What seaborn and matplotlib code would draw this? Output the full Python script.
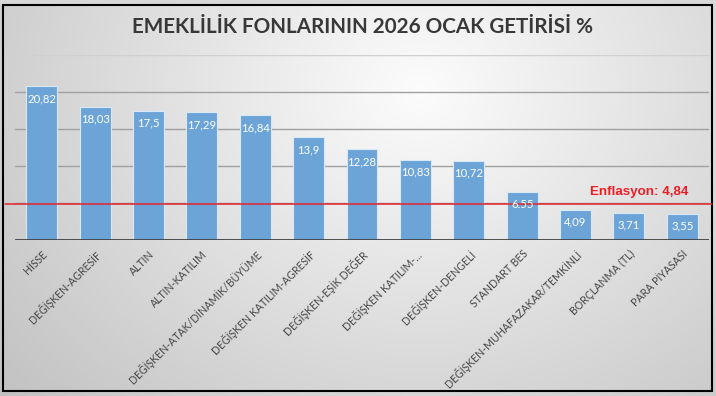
import numpy as np
import matplotlib
matplotlib.use("Agg")
import matplotlib.pyplot as plt
import seaborn as sns
from matplotlib.patches import Rectangle

categories = ["HİSSE", "DEĞİŞKEN-AGRESİF", "ALTIN", "ALTIN-KATILIM",
              "DEĞİŞKEN-ATAK/DİNAMİK/BÜYÜME", "DEĞİŞKEN KATILIM-AGRESİF",
              "DEĞİŞKEN-EŞİK DEĞER", "DEĞİŞKEN KATILIM-...", "DEĞİŞKEN-DENGELİ",
              "STANDART BES", "DEĞİŞKEN-MUHAFAZAKAR/TEMKİNLİ", "BORÇLANMA (TL)",
              "PARA PİYASASI"]
values = [20.82, 18.03, 17.5, 17.29, 16.84, 13.9, 12.28, 10.83, 10.72, 6.55, 4.09, 3.71, 3.55]
value_labels = ["20,82", "18,03", "17,5", "17,29", "16,84", "13,9", "12,28", "10,83",
                "10,72", "6.55", "4,09", "3,71", "3,55"]
inflation = 4.84
inflation_label = "Enflasyon: 4,84"
title = "EMEKLİLİK FONLARININ 2026 OCAK GETİRİSİ %"
gridlines = [5, 10, 15, 20, 25]

sns.set_theme(style="white")
plt.rcParams['font.family'] = ['Lato', 'DejaVu Sans']

W, H = 716, 396
fig = plt.figure(figsize=(W / 100, H / 100), dpi=100)
fig.patch.set_facecolor('#cbcbcb')

# background gradient
bg = fig.add_axes([0, 0, 1, 1], zorder=0)
yy, xx = np.mgrid[0:H, 0:W]
d = np.sqrt(((xx - 420) / 1.0) ** 2 + ((yy - 90) / 0.85) ** 2)
v = 252 - 55 * np.clip(d / 520, 0, 1.2)
v = np.clip(v, 190, 252) / 255.0
img = np.dstack([v, v, v])
img[:5, :, :] = 0.85
bg.imshow(img, extent=[0, W, H, 0], aspect='auto')
bg.set_xlim(0, W)
bg.set_ylim(H, 0)
bg.axis('off')
bg.add_patch(Rectangle((3, 5), 709, 386, fill=False, edgecolor='black', linewidth=1.5))

# main axes
left, right, top, bottom = 15, 709, 55, 240
ax = fig.add_axes([left / W, 1 - bottom / H, (right - left) / W, (bottom - top) / H], zorder=1)
ax.set_facecolor('none')

sns.barplot(x=categories, y=values, color='#6ca4d8', saturation=1, width=0.58,
            edgecolor='#d8e8f6', linewidth=0.8, ax=ax, zorder=3)
ax.set_xlim(-0.5, len(categories) - 0.5)
ax.set_ylim(0, 25)

for g in gridlines:
    ax.axhline(g, color='#d0d0d0' if g == 25 else '#a0a0a0', lw=1, zorder=1)
ax.axhline(0, color='#404040', lw=2, zorder=4)

x0 = (5 - left) / (right - left)
x1 = (712 - left) / (right - left)
ax.axhline(inflation, xmin=x0, xmax=x1, color='#e3242b', lw=1.1, zorder=5, clip_on=False)
ax.text(11.2, 6.55, inflation_label, color='#ee1c25', fontsize=9.6, fontweight='bold',
        family=['Liberation Sans', 'DejaVu Sans'], ha='center', va='center', zorder=6)

for i, (val, lab) in enumerate(zip(values, value_labels)):
    ax.annotate(lab, (i, val), xytext=(0, -9), textcoords='offset points',
                ha='center', va='center', color='white', fontsize=8.2, zorder=6)

for s in ax.spines.values():
    s.set_visible(False)
ax.set_yticks([])
ax.set_ylabel('')
ax.set_xlabel('')
ax.tick_params(axis='x', length=0, pad=6)
ax.set_xticks(range(len(categories)))
ax.set_xticklabels(categories, rotation=45, ha='right', rotation_mode='anchor',
                   fontsize=7.6, color='#454545')

fig.text(362 / W, 1 - 27 / H, title, ha='center', va='center', fontsize=14.9,
         fontweight='bold', color='#383838')

fig.savefig('out.png', dpi=100, facecolor=fig.get_facecolor())
